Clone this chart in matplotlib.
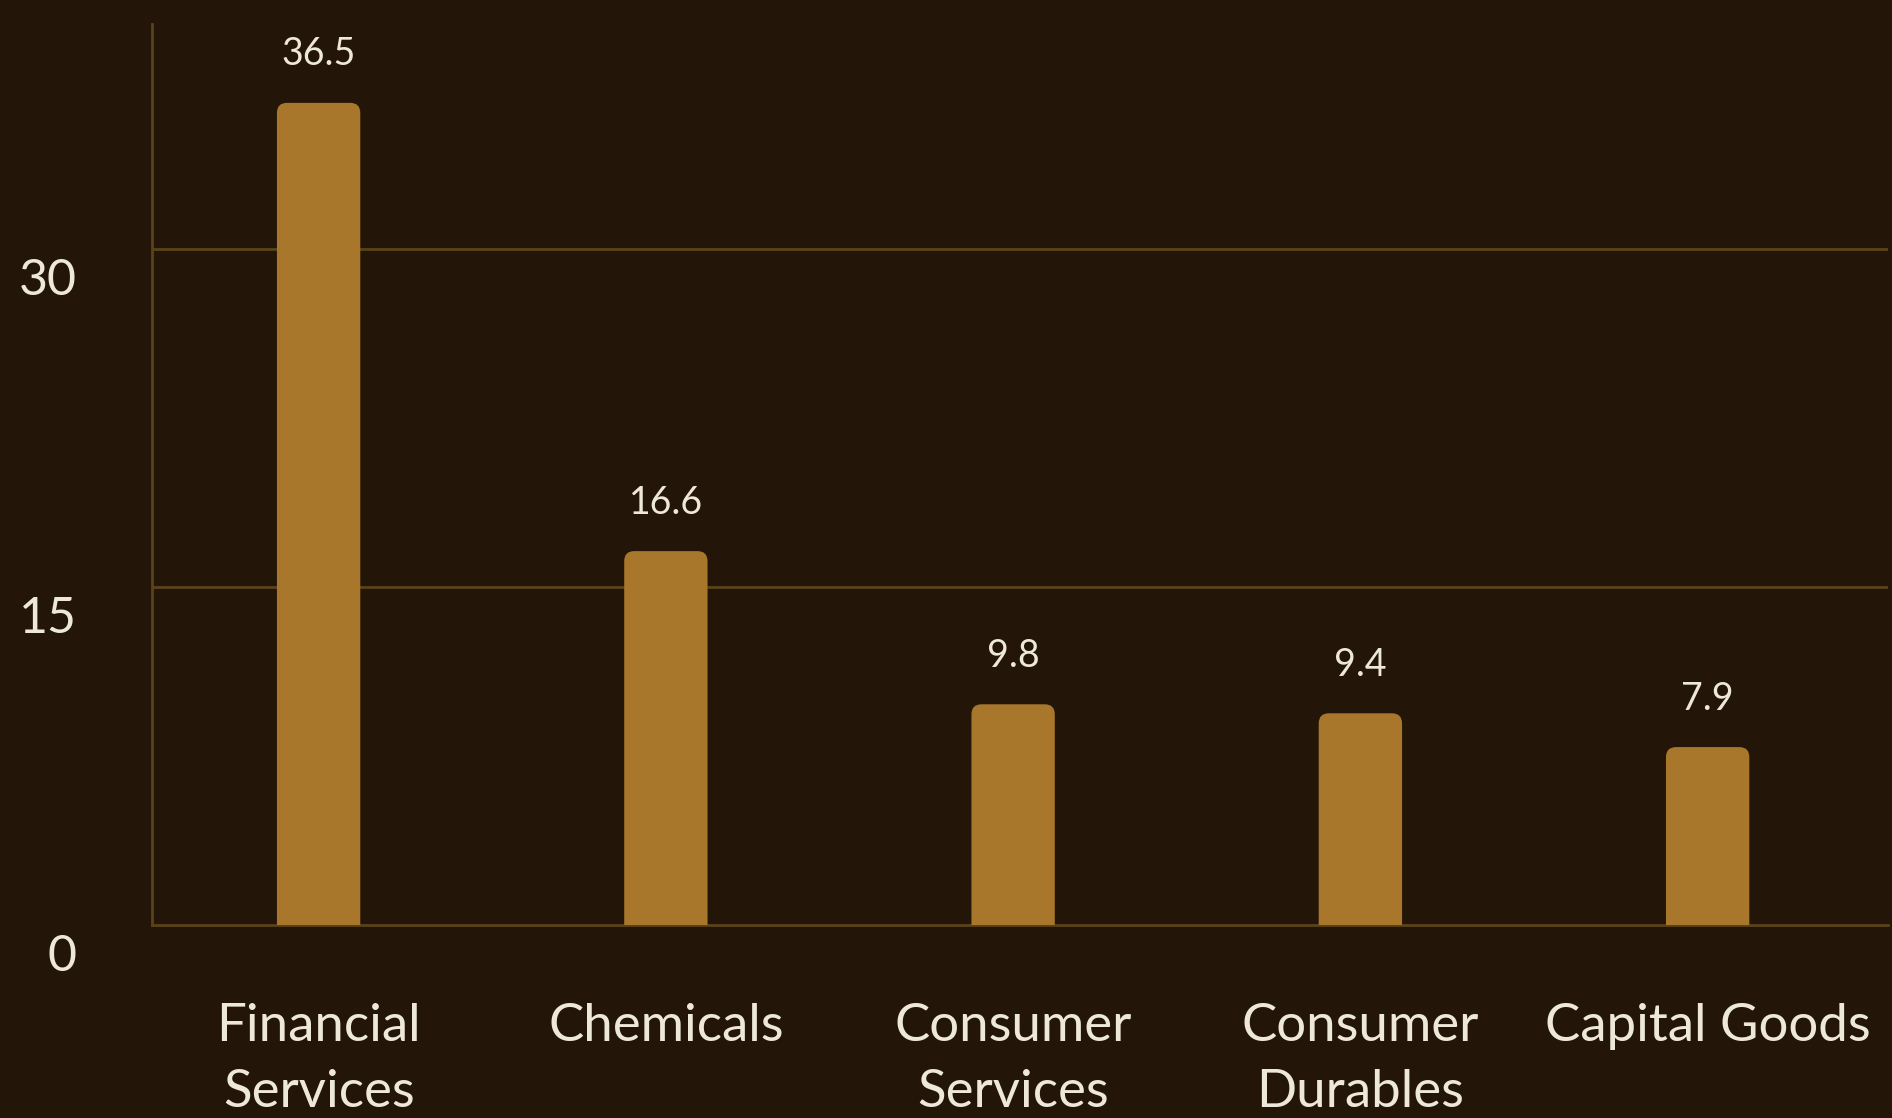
import matplotlib
matplotlib.use("Agg")
import matplotlib.pyplot as plt
import matplotlib.transforms as mtransforms
from matplotlib.patches import FancyBboxPatch

#* datos
categorias = ["Financial\nServices", "Chemicals", "Consumer\nServices",
              "Consumer\nDurables", "Capital Goods"]
valores = [36.5, 16.6, 9.8, 9.4, 7.9]
yticks = [0, 15, 30]

FONDO = "#231608"
BARRA = "#A8772B"
REJILLA = "#5A431A"
TEXTO = "#EEE8DA"

plt.rcParams["font.family"] = ["Lato", "DejaVu Sans"]

fig = plt.figure(figsize=(18.92, 11.18), dpi=100, facecolor=FONDO)
ax = fig.add_axes([0.0803, 0.1726, 0.9177, 0.8059], facecolor=FONDO)

x = list(range(len(valores)))
ancho = 0.24
ax.set_xlim(-0.48, 4.52)
ax.set_ylim(0, 40)

#? barras con esquinas superiores redondeadas (la parte inferior queda recortada por el eje)
px_x = 1736 / 5.0      # px por unidad x
px_y = 901 / 40.0      # px por unidad y
radio = 10 / px_x
for xi, v in zip(x, valores):
    p = FancyBboxPatch((xi - ancho / 2, -2), ancho, v + 2,
                       boxstyle=f"round,pad=0,rounding_size={radio}",
                       mutation_aspect=px_x / px_y,
                       facecolor=BARRA, edgecolor="none", zorder=3)
    ax.add_patch(p)
    ax.annotate(f"{v}", (xi, v), xytext=(0, 22), textcoords="offset points",
                ha="center", va="bottom", color=TEXTO, fontsize=27, zorder=4)

#? rejilla horizontal
for t in yticks[1:]:
    ax.axhline(t, color=REJILLA, linewidth=2, zorder=1)

for s in ["top", "right"]:
    ax.spines[s].set_visible(False)
for s in ["left", "bottom"]:
    ax.spines[s].set_color(REJILLA)
    ax.spines[s].set_linewidth(2)

ax.set_yticks(yticks)
ax.set_yticklabels([str(t) for t in yticks])
ax.set_xticks(x)
ax.set_xticklabels(categorias, linespacing=1.5)
ax.tick_params(axis="y", length=0, pad=54, labelsize=36, labelcolor=TEXTO)
ax.tick_params(axis="x", length=0, pad=56, labelsize=38, labelcolor=TEXTO)

#? las etiquetas del eje y aparecen algo por debajo de su línea
desplaza = mtransforms.ScaledTranslation(0, -27 / 100, fig.dpi_scale_trans)
for lab in ax.get_yticklabels():
    lab.set_transform(lab.get_transform() + desplaza)

fig.savefig("out.png", dpi=100, facecolor=FONDO)
